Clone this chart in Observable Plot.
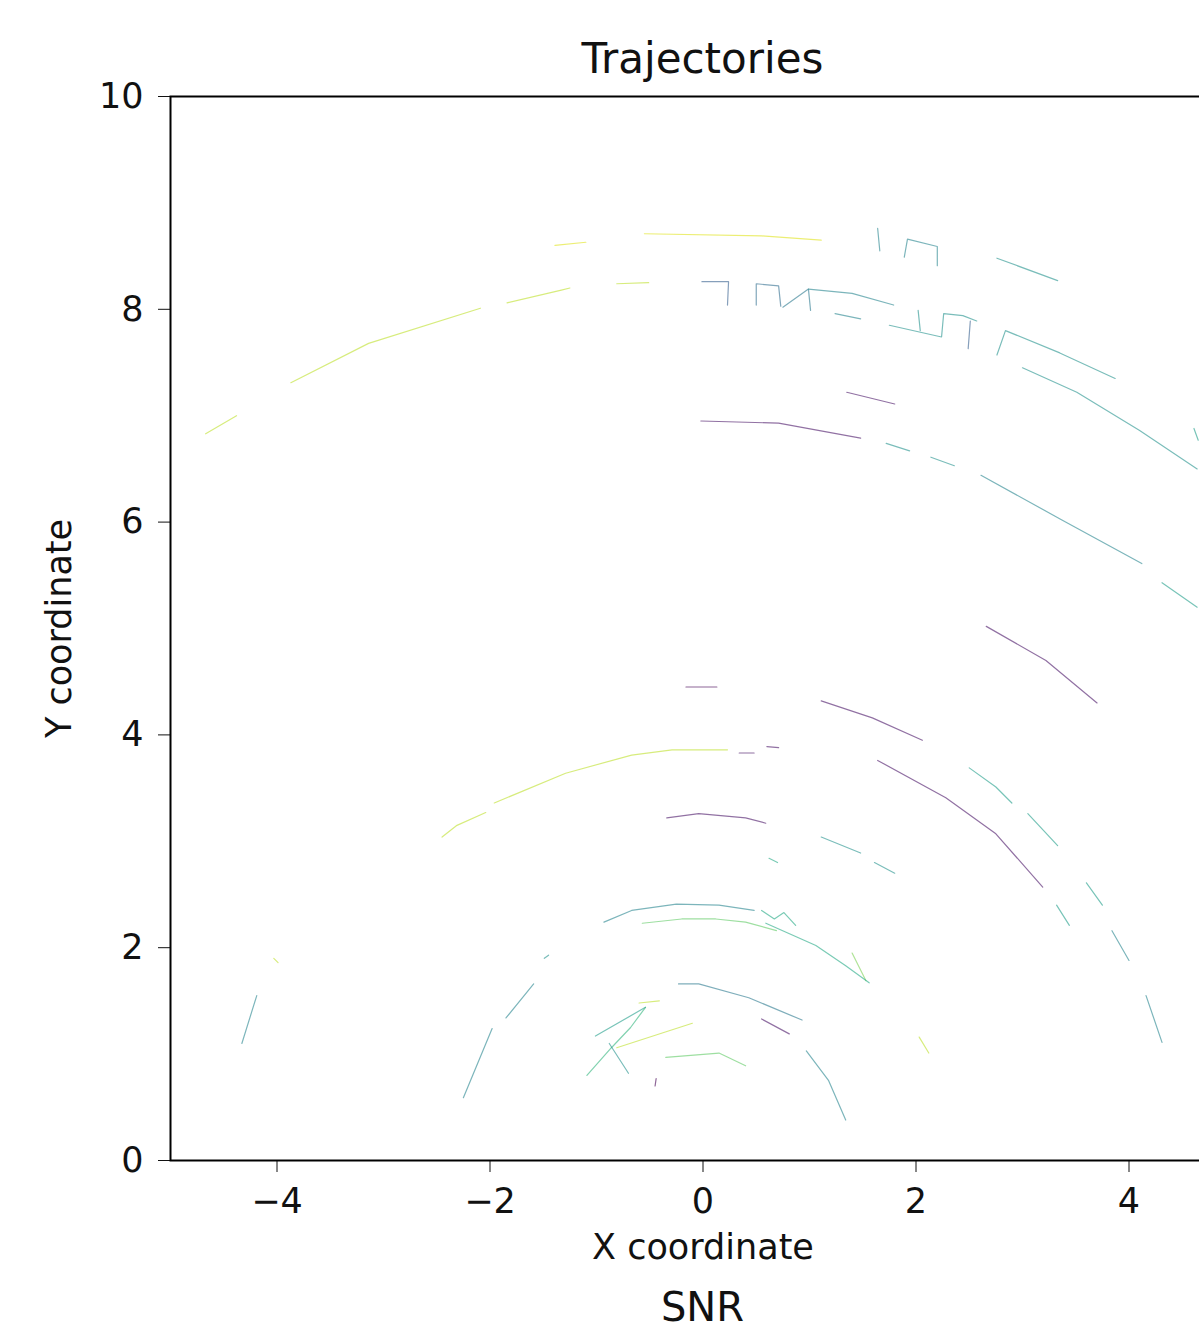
<!DOCTYPE html>
<html>
<head>
<meta charset="utf-8">
<script src="https://cdn.jsdelivr.net/npm/d3@7"></script>
<script src="https://cdn.jsdelivr.net/npm/@observablehq/plot@0.6"></script>
<style>
  html, body { margin: 0; padding: 0; background: white; overflow: hidden; width: 1199px; height: 1334px; }
  #title { font-family: "DejaVu Sans", sans-serif; font-size: 42px; line-height: 42px; height: 28px; padding-top: 38px;
           width: 1065px; margin-left: 170px; text-align: center; color: #111; white-space: nowrap; position: relative; z-index: 1; }
  #chart svg { display: block; overflow: hidden; }
  #caption { font-family: "DejaVu Sans", sans-serif; font-size: 40px; line-height: 40px; padding-top: 17px;
             width: 1065px; margin-left: 170px; text-align: center; color: #111; }
</style>
</head>
<body>
<div id="title">Trajectories</div>
<div id="chart"></div>
<div id="caption">SNR</div>
<script>
// Axis ticks
const xTicks = [-4, -2, 0, 2, 4];
const yTicks = [0, 2, 4, 6, 8, 10];

// Trajectory segments: [x, y] points per track
const trackPoints = [
  [[-1.39, 8.60], [-1.10, 8.63]],
  [[-0.55, 8.71], [0.55, 8.69], [1.11, 8.65]],
  [[1.64, 8.76], [1.66, 8.55]],
  [[1.89, 8.49], [1.92, 8.66], [2.20, 8.59], [2.20, 8.41]],
  [[2.76, 8.48], [3.33, 8.27]],
  [[-0.01, 8.26], [0.24, 8.26], [0.23, 8.04]],
  [[0.50, 8.04], [0.50, 8.24], [0.71, 8.22], [0.73, 8.03]],
  [[0.75, 8.02], [0.99, 8.19], [1.01, 7.99]],
  [[0.99, 8.19], [1.40, 8.15], [1.79, 8.04]],
  [[1.24, 7.96], [1.48, 7.91]],
  [[1.75, 7.85], [2.24, 7.74], [2.26, 7.96], [2.44, 7.94], [2.57, 7.89]],
  [[2.02, 7.99], [2.04, 7.80]],
  [[2.51, 7.89], [2.49, 7.63]],
  [[2.76, 7.57], [2.84, 7.80], [3.35, 7.59], [3.87, 7.35]],
  [[3.00, 7.45], [3.51, 7.22], [4.10, 6.86], [4.64, 6.50]],
  [[4.61, 6.88], [4.65, 6.77]],
  [[1.35, 7.22], [1.80, 7.11]],
  [[-0.02, 6.95], [0.71, 6.93], [1.48, 6.79]],
  [[1.72, 6.74], [1.94, 6.67]],
  [[2.14, 6.61], [2.36, 6.53]],
  [[2.61, 6.44], [3.37, 6.02], [4.12, 5.61]],
  [[4.31, 5.43], [4.64, 5.20]],
  [[2.66, 5.02], [3.22, 4.70], [3.70, 4.30]],
  [[-0.16, 4.45], [0.13, 4.45]],
  [[1.11, 4.32], [1.59, 4.16], [2.06, 3.95]],
  [[-2.45, 3.04], [-2.31, 3.15], [-2.04, 3.27]],
  [[-1.96, 3.36], [-1.29, 3.64], [-0.67, 3.81], [-0.29, 3.86], [0.23, 3.86]],
  [[0.34, 3.83], [0.48, 3.83]],
  [[0.60, 3.89], [0.71, 3.88]],
  [[1.64, 3.76], [2.28, 3.41], [2.75, 3.07], [3.19, 2.57]],
  [[2.50, 3.69], [2.75, 3.51], [2.90, 3.36]],
  [[3.05, 3.26], [3.33, 2.96]],
  [[3.60, 2.61], [3.75, 2.40]],
  [[-0.34, 3.22], [-0.04, 3.26], [0.40, 3.22], [0.59, 3.17]],
  [[1.11, 3.04], [1.48, 2.89]],
  [[1.61, 2.80], [1.80, 2.70]],
  [[0.62, 2.84], [0.70, 2.80]],
  [[3.32, 2.40], [3.44, 2.21]],
  [[3.84, 2.16], [4.00, 1.88]],
  [[4.16, 1.55], [4.31, 1.11]],
  [[2.03, 1.16], [2.12, 1.01]],
  [[1.40, 1.95], [1.53, 1.69]],
  [[-0.93, 2.24], [-0.67, 2.35], [-0.25, 2.41], [0.15, 2.40], [0.48, 2.35]],
  [[0.55, 2.35], [0.67, 2.27], [0.76, 2.33], [0.87, 2.21]],
  [[0.59, 2.23], [1.06, 2.02], [1.34, 1.83], [1.56, 1.67]],
  [[-0.57, 2.23], [-0.20, 2.27], [0.12, 2.27], [0.40, 2.24], [0.69, 2.16]],
  [[-1.49, 1.90], [-1.45, 1.93]],
  [[-1.59, 1.66], [-1.85, 1.34]],
  [[-1.98, 1.24], [-2.25, 0.59]],
  [[-0.23, 1.66], [-0.04, 1.66], [0.43, 1.53], [0.93, 1.32]],
  [[0.97, 1.03], [1.18, 0.75], [1.34, 0.38]],
  [[0.55, 1.33], [0.81, 1.19]],
  [[-1.01, 1.17], [-0.54, 1.44]],
  [[-1.09, 0.80], [-0.86, 1.06], [-0.68, 1.25], [-0.54, 1.44]],
  [[-0.88, 1.10], [-0.70, 0.82]],
  [[-0.81, 1.06], [-0.10, 1.29]],
  [[-0.35, 0.97], [0.15, 1.01], [0.40, 0.89]],
  [[-0.44, 0.77], [-0.45, 0.70]],
  [[-0.60, 1.48], [-0.41, 1.50]],
  [[-4.19, 1.55], [-4.33, 1.10]],
  [[-4.03, 1.90], [-3.99, 1.86]],
  [[-4.67, 6.83], [-4.38, 7.00]],
  [[-3.87, 7.31], [-3.14, 7.68], [-2.09, 8.01]],
  [[-1.84, 8.06], [-1.33, 8.18], [-1.25, 8.20]],
  [[-0.81, 8.24], [-0.51, 8.25]]
];

// SNR of each track (same order as trackPoints)
const trackSNR = [
  19, 19, 9, 9, 10, 6, 7, 8, 9, 9,
  10, 10, 6, 10, 10, 11, 1, 1, 10, 10,
  9, 11, 1, 0, 1, 18, 18, 1, 1, 1,
  11, 11, 11, 1, 10, 10, 12, 11, 9, 9,
  18, 16, 9, 12, 12, 15, 10, 9, 9, 8,
  9, 1, 11, 13, 10, 18, 15, 0, 18, 9,
  18, 18, 18, 18, 18
];

const rows = [];
trackPoints.forEach((pts, i) => {
  pts.forEach(([x, y]) => rows.push({track: i, x, y, snr: trackSNR[i]}));
});

const chart = Plot.plot({
  width: 1199,
  height: 1204,
  marginLeft: 170,
  marginRight: -36,
  marginTop: 30,
  marginBottom: 110,
  style: {fontFamily: "DejaVu Sans", fontSize: "35px", color: "#111", background: "transparent"},
  x: {domain: [-5, 5], ticks: xTicks, tickSize: 12, tickPadding: 16, label: "X coordinate", labelAnchor: "center", labelOffset: 98, labelArrow: "none"},
  y: {domain: [0, 10], ticks: yTicks, tickSize: 12, tickPadding: 15, label: "Y coordinate", labelAnchor: "center", labelOffset: 124, labelArrow: "none"},
  color: {type: "linear", scheme: "viridis", domain: [0, 20]},
  marks: [
    Plot.line(rows, {x: "x", y: "y", z: "track", stroke: "snr", strokeWidth: 1.2, strokeOpacity: 0.6}),
    Plot.frame({stroke: "black", strokeWidth: 2})
  ]
});
document.getElementById("chart").appendChild(chart);
</script>
</body>
</html>
